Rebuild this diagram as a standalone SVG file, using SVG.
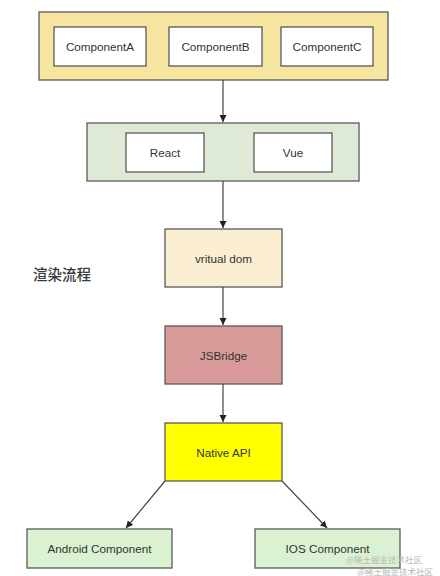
<svg xmlns="http://www.w3.org/2000/svg" width="440" height="576" viewBox="0 0 440 576">
<style>
text{font-family:"Liberation Sans",Arial,sans-serif;font-size:11.7px;fill:#333;text-anchor:middle;dominant-baseline:central}
.b{stroke:#5a5a5a;stroke-width:1.3}
.w{fill:#fff}
.c{stroke:#444;stroke-width:1.2;fill:none}
.wm{font-size:8.5px;fill:#b8b8b8;text-anchor:start}
</style>
<defs>
<marker id="ah" markerWidth="8" markerHeight="8" refX="7" refY="4" orient="auto" markerUnits="userSpaceOnUse">
<path d="M0,0.5 L7,4 L0,7.5 Z" fill="#222"/>
</marker>
</defs>
<rect width="440" height="576" fill="#fff"/>
<g id="components">
<rect class="b" x="39" y="12" width="349" height="68" fill="#f7e6a0"/>
<g id="componentA"><rect class="b w" x="54" y="27" width="92" height="39"/><text x="100" y="46.5">ComponentA</text></g>
<g id="componentB"><rect class="b w" x="169" y="27" width="93" height="39"/><text x="215.5" y="46.5">ComponentB</text></g>
<g id="componentC"><rect class="b w" x="281" y="27" width="92" height="39"/><text x="327" y="46.5">ComponentC</text></g>
</g>
<g id="frameworks">
<rect class="b" x="87" y="123" width="272" height="58" fill="#dfead6"/>
<g id="react"><rect class="b w" x="126" y="133" width="78" height="39"/><text x="165" y="152.5">React</text></g>
<g id="vue"><rect class="b w" x="254" y="133" width="78" height="39"/><text x="293" y="152.5">Vue</text></g>
</g>
<g id="vdom"><rect class="b" x="165" y="229" width="117" height="58" fill="#fbeed3"/><text x="223.5" y="258">vritual dom</text></g>
<g id="jsbridge"><rect class="b" x="165" y="326" width="117" height="58" fill="#d99b99"/><text x="223.5" y="355">JSBridge</text></g>
<g id="nativeapi"><rect class="b" x="165" y="423" width="117" height="58" fill="#ffff00"/><text x="223.5" y="452">Native API</text></g>
<g id="android"><rect class="b" x="27" y="529" width="145" height="39" fill="#daf2d2"/><text x="99.5" y="548.5">Android Component</text></g>
<g id="ios"><rect class="b" x="255" y="529" width="145" height="39" fill="#daf2d2"/><text x="327.5" y="548.5">IOS Component</text></g>
<g id="title"><text x="33" y="273" style="text-anchor:start;font-family:'Noto Sans CJK SC',sans-serif;font-size:14.5px;font-weight:500;fill:#3a3a3a">渲染流程</text></g>
<g id="connectors">
<path class="c" d="M223,80 V122" marker-end="url(#ah)"/>
<path class="c" d="M223,181 V228" marker-end="url(#ah)"/>
<path class="c" d="M223,287 V325" marker-end="url(#ah)"/>
<path class="c" d="M223,384 V422" marker-end="url(#ah)"/>
<path class="c" d="M165,481 L126,528" marker-end="url(#ah)"/>
<path class="c" d="M282,481 L327,528" marker-end="url(#ah)"/>
</g>
<g id="watermark">
<text class="wm" x="346" y="559" style="font-family:'Noto Sans CJK SC',sans-serif">@稀土掘金技术社区</text>
<text class="wm" x="357" y="571" style="font-family:'Noto Sans CJK SC',sans-serif">@稀土掘金技术社区</text>
</g>
</svg>
